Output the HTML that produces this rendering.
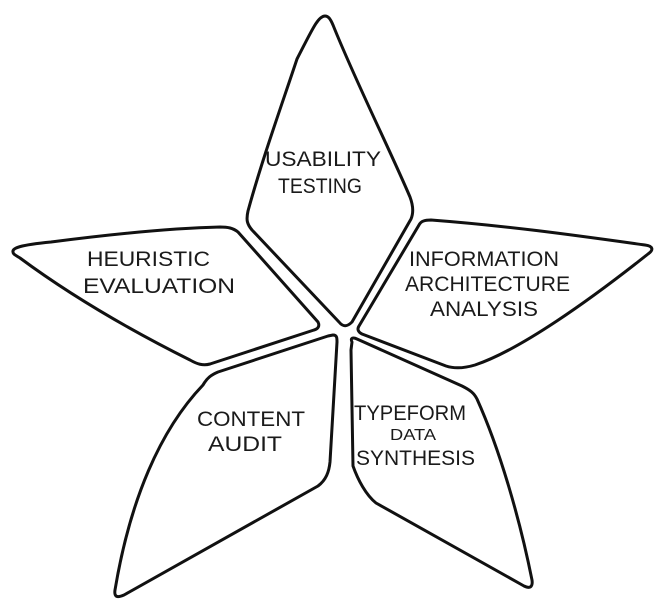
<!DOCTYPE html>
<html><head><meta charset="utf-8"><style>
html,body{margin:0;padding:0;background:#fff;}
svg{display:block;}
text{font-family:"Liberation Sans",sans-serif;fill:#1a1a1a;font-size:21px;}
</style></head><body>
<svg width="663" height="610" viewBox="0 0 663 610" xmlns="http://www.w3.org/2000/svg">
<g fill="none" stroke="#111" stroke-width="3" stroke-linejoin="round" stroke-linecap="round">
<path d="M325,16 C318,16 312,30 297,59 C280,110 262,160 248,211 C246,220 247,224 252,230 L339,322 C343,327 347,327 352,322 L411,219 C414,212 413,205 410,197 C390,150 355,80 333,25 C330,18 328,16 325,16 Z"/>
<path d="M13,252 C12,248 20,245 51,242 C120,233 180,228 220,227 C228,227 233,228 238,232 L318,322 C320,326 318,329 314,330 L210,364 C203,366 197,364 190,360 C130,330 70,295 20,258 C15,255 13,254 13,252 Z"/>
<path d="M359,326 L419,225 C421,221 425,220 431,220 C510,226 580,236 645,245 C653,246 654,250 648,254 C590,300 520,350 475,365 C465,368 455,369 446,366 L362,334 C358,332 357,329 359,326 Z"/>
<path d="M333,335 C337,335 337,338 337,342 L330,462 C329,472 326,480 318,486 L124,595 C117,598 114,597 115,590 C130,500 160,430 203,385 C207,378 211,375 218,372 L328,336 Z"/>
<path d="M352,342 C350,338 353,337 357,339 L462,386 C470,390 474,393 477,399 C500,450 520,520 532,580 C533,587 530,589 524,586 L376,503 C366,495 358,480 353,466 L351,350 Z"/>
</g>
<text x="265" y="166" textLength="116" lengthAdjust="spacingAndGlyphs">USABILITY</text>
<text x="278" y="193" textLength="84" lengthAdjust="spacingAndGlyphs">TESTING</text>
<text x="87" y="266" textLength="123" lengthAdjust="spacingAndGlyphs">HEURISTIC</text>
<text x="83" y="293" textLength="152" lengthAdjust="spacingAndGlyphs">EVALUATION</text>
<text x="409" y="266" textLength="150" lengthAdjust="spacingAndGlyphs">INFORMATION</text>
<text x="405" y="291" textLength="165" lengthAdjust="spacingAndGlyphs">ARCHITECTURE</text>
<text x="430" y="316" textLength="108" lengthAdjust="spacingAndGlyphs">ANALYSIS</text>
<text x="197" y="426" textLength="108" lengthAdjust="spacingAndGlyphs">CONTENT</text>
<text x="208" y="451" textLength="74" lengthAdjust="spacingAndGlyphs">AUDIT</text>
<text x="354" y="420" textLength="112" lengthAdjust="spacingAndGlyphs">TYPEFORM</text>
<text x="390" y="440" textLength="46" lengthAdjust="spacingAndGlyphs" style="font-size:16px">DATA</text>
<text x="356" y="465" textLength="119" lengthAdjust="spacingAndGlyphs">SYNTHESIS</text>
</svg>
</body></html>
